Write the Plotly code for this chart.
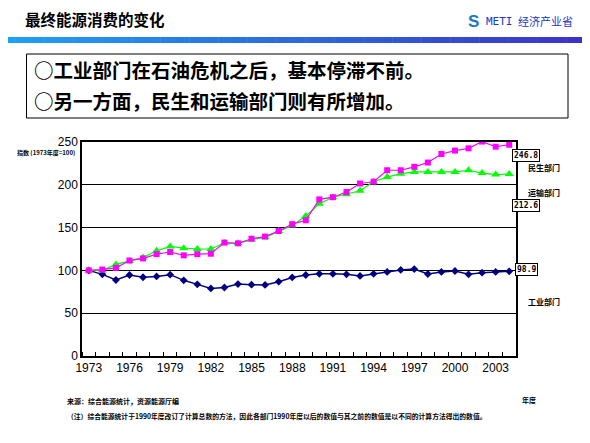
import plotly.graph_objects as go

years = list(range(1973, 2005))
residential = [100, 101, 103, 111.5, 114, 119, 121.5, 117.6, 119, 119.5, 132.5, 131.6, 137, 139.5, 146, 154, 158.5, 183, 185.5, 191.5, 201.5, 203.6, 217, 217, 221, 226, 236, 240, 242.6, 250.5, 244.5, 246.8]
transport = [100, 100, 107, 111, 115, 123, 128, 126, 125, 125, 132, 131.6, 136, 138.6, 146, 152.5, 163.5, 177.8, 185.5, 189, 193, 203.6, 209, 213, 215, 215, 215, 215, 217, 213.7, 212, 212.6]
industry = [100, 95.4, 88.8, 94.6, 92, 93, 95, 88.4, 83.7, 79, 80, 84, 83.3, 83, 86.8, 91.8, 94.6, 96, 96, 95.4, 93.5, 96, 98.2, 100.5, 101.6, 95.8, 98.2, 99.3, 95.4, 97.3, 98.2, 98.9]
label_years = list(range(1973, 2004, 3))
series_names = ["民生部门", "运输部门", "工业部门"]

# page offset caused by default body margin
OFF = 8
L, R, T, B = 82 - OFF, 516 - OFF, 142 - OFF, 356 - OFF
W, H = 590, 443


def px(x):
    return (x - OFF - L) / (R - L)


def py(y):
    return (B - (y - OFF)) / (B - T)


fig = go.Figure()
fig.add_trace(go.Scatter(x=years, y=industry, mode="lines+markers", name=series_names[2],
                         line=dict(color="#000080", width=1.5),
                         marker=dict(symbol="diamond", size=6, color="#000080")))
fig.add_trace(go.Scatter(x=years, y=transport, mode="lines+markers", name=series_names[1],
                         line=dict(color="#00FF00", width=1.2),
                         marker=dict(symbol="triangle-up", size=8, color="#00FF00")))
fig.add_trace(go.Scatter(x=years, y=residential, mode="lines+markers", name=series_names[0],
                         line=dict(color="#FF00FF", width=1.2),
                         marker=dict(symbol="square", size=6, color="#FF00FF")))

shapes = []
# gradient bar under the title
n = 80
x0p, x1p = 8, 588
c0 = (30, 160, 245)
c1 = (60, 50, 200)
for i in range(n):
    t = i / (n - 1)
    col = tuple(int(c0[k] + (c1[k] - c0[k]) * t) for k in range(3))
    xa = x0p + (x1p - x0p) * i / n
    xb = x0p + (x1p - x0p) * (i + 1) / n + 0.5
    shapes.append(dict(type="rect", xref="paper", yref="paper",
                       x0=px(xa), x1=px(xb), y0=py(43), y1=py(37),
                       fillcolor="rgb(%d,%d,%d)" % col, line=dict(width=0), layer="above"))
# text box
shapes.append(dict(type="rect", xref="paper", yref="paper",
                   x0=px(26.5), x1=px(568), y0=py(118), y1=py(54),
                   line=dict(color="black", width=1), fillcolor="rgba(0,0,0,0)"))

annotations = []


def ann(text, x, y, size, xanchor="left", color="black", bold=True, family="Noto Sans CJK SC", **kw):
    annotations.append(dict(text=("<b>%s</b>" % text) if bold else text, x=px(x), y=py(y),
                            xref="paper", yref="paper", xanchor=xanchor, yanchor="middle",
                            showarrow=False, font=dict(size=size, color=color, family=family), **kw))


ann("最终能源消费的变化", 23, 19, 15.5)
ann("S", 466, 21, 17, color="#1a78c2", family="Liberation Sans")
ann("METI", 484, 21, 11, color="#2036c8", bold=False, family="DejaVu Sans Mono")
ann("经济产业省", 516, 21, 11, color="#2036c8", bold=False)
ann("○工业部门在石油危机之后，基本停滞不前。", 32, 70, 19.5)
ann("○另一方面，民生和运输部门则有所增加。", 32, 101, 19.5)
ann("指数 (1973年度=100)", 77, 152, 6, xanchor="right")
ann(series_names[0], 526, 167, 8)
ann(series_names[1], 526, 192, 8)
ann(series_names[2], 526, 301, 8)
for val, yy in [(residential[-1], 155.5), (transport[-1], 205), (industry[-1], 269)]:
    ann("%.1f" % val, 526, yy, 8, xanchor="center", family="DejaVu Sans Mono",
        bordercolor="black", borderwidth=1, borderpad=1, bgcolor="white")
ann("来源：综合能源统计，资源能源厅编", 65, 401, 7)
ann("年度", 520, 400, 7)
ann("（注）综合能源统计于1990年度改订了计算总数的方法，因此各部门1990年度以后的数值与其之前的数值是以不同的计算方法得出的数值。", 65, 416, 6.8)

fig.update_layout(
    width=W, height=H,
    margin=dict(l=L, r=W - R, t=T, b=H - B),
    paper_bgcolor="white", plot_bgcolor="white",
    showlegend=False,
    shapes=shapes, annotations=annotations,
    font=dict(family="Liberation Sans", size=12, color="black"),
)
fig.update_xaxes(range=[1972.5, 2004.5], tickvals=label_years, ticktext=[str(y) for y in label_years],
                 ticks="", showgrid=False, showline=True, linecolor="black", linewidth=1.5, mirror=True,
                 tickfont=dict(size=12, family="Liberation Sans", color="black"),
                 minor=dict(ticks="inside", ticklen=4, tick0=1972.5, dtick=1, tickcolor="black", showgrid=False),
                 zeroline=False)
fig.update_yaxes(range=[0, 250], tickvals=[0, 50, 100, 150, 200, 250], showgrid=True, gridcolor="black",
                 gridwidth=1.2, showline=True, linecolor="black", linewidth=1.5, mirror=True, ticks="",
                 tickfont=dict(size=12, family="Liberation Sans", color="black"), zeroline=False)

fig.write_html("out.html")
